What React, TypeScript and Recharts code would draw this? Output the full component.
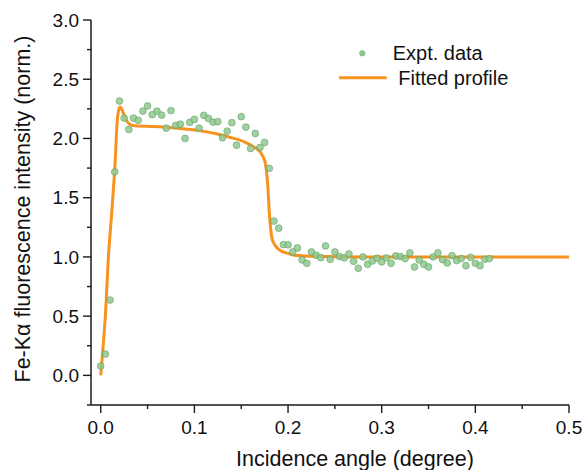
import React from 'react';
import { ComposedChart, Scatter, Line, XAxis, YAxis, Legend } from 'recharts';

const exptAngle = [
  0, 0.005, 0.01, 0.015, 0.02, 0.025, 0.03, 0.035, 0.04, 0.045,
  0.05, 0.055, 0.06, 0.065, 0.07, 0.075, 0.08, 0.085, 0.09, 0.095,
  0.1, 0.105, 0.11, 0.115, 0.12, 0.125, 0.13, 0.135, 0.14, 0.145,
  0.15, 0.155, 0.16, 0.165, 0.17, 0.175, 0.18, 0.185, 0.19, 0.195,
  0.2, 0.205, 0.21, 0.215, 0.22, 0.225, 0.23, 0.235, 0.24, 0.245,
  0.25, 0.255, 0.26, 0.265, 0.27, 0.275, 0.28, 0.285, 0.29, 0.295,
  0.3, 0.305, 0.31, 0.315, 0.32, 0.325, 0.33, 0.335, 0.34, 0.345,
  0.35, 0.355, 0.36, 0.365, 0.37, 0.375, 0.38, 0.385, 0.39, 0.395,
  0.4, 0.405, 0.41, 0.415,
];
const exptIntensity = [
  0.079, 0.18, 0.636, 1.718, 2.316, 2.172, 2.076, 2.172, 2.153, 2.231,
  2.274, 2.201, 2.231, 2.197, 2.087, 2.235, 2.11, 2.121, 2.0, 2.136,
  2.161, 2.087, 2.195, 2.169, 2.138, 2.142, 2.006, 2.062, 2.133, 1.943,
  2.184, 2.096, 1.915, 2.042, 1.924, 1.966, 1.748, 1.303, 1.243, 1.104,
  1.102, 1.042, 1.076, 0.975, 0.946, 1.042, 1.014, 0.994, 1.093, 0.98,
  1.042, 1.003, 0.992, 1.025, 0.963, 0.904, 1.0, 0.938, 0.966, 0.989,
  0.958, 0.992, 0.946, 1.008, 1.003, 0.986, 1.034, 0.915, 0.975, 0.938,
  0.915, 1.0, 1.034, 0.977, 0.949, 1.011, 0.969, 0.986, 0.926, 0.997,
  0.946, 0.926, 0.98, 0.986,
];
const fitAngle = [
  0, 0.0028, 0.0053, 0.008, 0.0117, 0.0153, 0.0177, 0.0195, 0.0206, 0.022,
  0.024, 0.0277, 0.033, 0.04, 0.054, 0.07, 0.09, 0.11, 0.1255, 0.14,
  0.147, 0.155, 0.161, 0.166, 0.17, 0.173, 0.1755, 0.177, 0.178, 0.179,
  0.18, 0.1812, 0.1825, 0.1845, 0.187, 0.19, 0.194, 0.2, 0.2055, 0.215,
  0.23, 0.25, 0.3, 0.4, 0.5,
];
const fitIntensity = [
  0, 0.27, 0.55, 0.975, 1.37, 1.79, 2.16, 2.25, 2.265, 2.255,
  2.218, 2.147, 2.113, 2.105, 2.102, 2.095, 2.08, 2.06, 2.035, 2.005,
  1.99, 1.965, 1.94, 1.915, 1.89, 1.85, 1.8, 1.72, 1.64, 1.52,
  1.37, 1.26, 1.17, 1.12, 1.09, 1.063, 1.045, 1.03, 1.017, 1.01,
  1.005, 1.002, 1.0, 1.0, 1.0,
];

const xTickValues = [0, 0.05, 0.1, 0.15, 0.2, 0.25, 0.3, 0.35, 0.4, 0.45, 0.5];
const xTickLabels = ['0.0', '', '0.1', '', '0.2', '', '0.3', '', '0.4', '', '0.5'];
const yTickValues = [-0.25, 0, 0.25, 0.5, 0.75, 1, 1.25, 1.5, 1.75, 2, 2.25, 2.5, 2.75, 3];
const yTickLabels = ['', '0.0', '', '0.5', '', '1.0', '', '1.5', '', '2.0', '', '2.5', '', '3.0'];

const exptData = exptAngle.map((x, i) => ({ x, y: exptIntensity[i] }));
const fitData = fitAngle.map((x, i) => ({ x, y: fitIntensity[i] }));

const FONT = "Arial, 'Liberation Sans', Helvetica, sans-serif";
const AXIS = '#1a1a1a';
const ORANGE = '#f7931e';
const GREEN_FILL = '#8fc98f';
const GREEN_STROKE = '#5e9a5e';

const labelFor = (values: number[], labels: string[], v: number) => {
  const i = values.findIndex((t) => Math.abs(t - v) < 1e-6);
  return i >= 0 ? labels[i] : '';
};

const BottomTick = (props: any) => {
  const { x, y, payload } = props;
  const lab = labelFor(xTickValues, xTickLabels, payload.value);
  const major = lab !== '';
  return (
    <g>
      <line x1={x} x2={x} y1={y} y2={y + (major ? 8 : 4)} stroke={AXIS} strokeWidth={1.4} />
      {major && (
        <text x={x} y={y + 29} textAnchor="middle" fontSize={19} fontFamily={FONT} fill="#111">
          {lab}
        </text>
      )}
    </g>
  );
};

const TopTick = (props: any) => {
  const { x, y, payload } = props;
  const major = labelFor(xTickValues, xTickLabels, payload.value) !== '';
  return <line x1={x} x2={x} y1={y} y2={y + (major ? 8 : 4)} stroke={AXIS} strokeWidth={1.4} />;
};

const LeftTick = (props: any) => {
  const { x, y, payload } = props;
  const lab = labelFor(yTickValues, yTickLabels, payload.value);
  const major = lab !== '';
  return (
    <g>
      <line x1={x} x2={x - (major ? 8 : 4)} y1={y} y2={y} stroke={AXIS} strokeWidth={1.4} />
      {major && (
        <text x={x - 12} y={y + 6.8} textAnchor="end" fontSize={19} fontFamily={FONT} fill="#111">
          {lab}
        </text>
      )}
    </g>
  );
};

const RightTick = (props: any) => {
  const { x, y, payload } = props;
  const major = labelFor(yTickValues, yTickLabels, payload.value) !== '';
  return <line x1={x} x2={x - (major ? 8 : 4)} y1={y} y2={y} stroke={AXIS} strokeWidth={1.4} />;
};

const YLabel = () => (
  <text
    x={23}
    y={209}
    transform="rotate(-90, 23, 209)"
    textAnchor="middle"
    dominantBaseline="central"
    fontSize={21.5}
    fontFamily={FONT}
    fill="#111"
  >
    Fe-Kα fluorescence intensity (norm.)
  </text>
);

const XLabel = () => (
  <text x={355} y={466} textAnchor="middle" fontSize={21.5} fontFamily={FONT} fill="#111">
    Incidence angle (degree)
  </text>
);

const Dot = (props: any) => (
  <circle cx={props.cx} cy={props.cy} r={3.4} fill={GREEN_FILL} fillOpacity={0.85} stroke={GREEN_STROKE} strokeOpacity={0.7} strokeWidth={0.8} />
);

const LegendBox = () => (
  <svg width={240} height={70} style={{ display: 'block', overflow: 'visible' }}>
    <circle cx={42.3} cy={23.3} r={2.8} fill={GREEN_FILL} stroke={GREEN_STROKE} strokeOpacity={0.6} strokeWidth={0.7} />
    <text x={72.7} y={30.2} fontSize={20} fontFamily={FONT} fill="#111">Expt. data</text>
    <line x1={19} x2={66.7} y1={47.7} y2={47.7} stroke={ORANGE} strokeWidth={3} />
    <text x={78.3} y={54.7} fontSize={20} fontFamily={FONT} fill="#111">Fitted profile</text>
  </svg>
);

export default function App() {
  return (
    <div style={{ position: 'absolute', left: 0, top: 0, background: '#fff' }}>
      <ComposedChart width={585} height={470} margin={{ top: 20, right: 16, bottom: 0, left: 0 }}>
        <XAxis
          xAxisId="bottom"
          dataKey="x"
          type="number"
          domain={[-0.0104, 0.5]}
          allowDataOverflow
          ticks={xTickValues}
          interval={0}
          tick={<BottomTick />}
          tickSize={0}
          tickMargin={0}
          tickLine={false}
          axisLine={{ stroke: AXIS, strokeWidth: 1.5 }}
          height={65}
          label={XLabel}
        />
        <XAxis
          xAxisId="top"
          orientation="top"
          type="number"
          domain={[-0.0104, 0.5]}
          allowDataOverflow
          ticks={xTickValues}
          interval={0}
          tick={<TopTick />}
          tickSize={0}
          tickMargin={0}
          tickLine={false}
          axisLine={{ stroke: AXIS, strokeWidth: 1.5 }}
          height={0}
        />
        <YAxis
          yAxisId="left"
          dataKey="y"
          type="number"
          domain={[-0.25, 3]}
          allowDataOverflow
          ticks={yTickValues}
          interval={0}
          tick={<LeftTick />}
          tickSize={0}
          tickMargin={0}
          tickLine={false}
          axisLine={{ stroke: AXIS, strokeWidth: 1.5 }}
          width={91}
          label={YLabel}
        />
        <YAxis
          yAxisId="right"
          orientation="right"
          type="number"
          domain={[-0.25, 3]}
          allowDataOverflow
          ticks={yTickValues}
          interval={0}
          tick={<RightTick />}
          tickSize={0}
          tickMargin={0}
          tickLine={false}
          axisLine={{ stroke: AXIS, strokeWidth: 1.5 }}
          width={0}
        />
        <Line
          xAxisId="bottom"
          yAxisId="left"
          data={fitData}
          dataKey="y"
          type="monotone"
          stroke={ORANGE}
          strokeWidth={3}
          dot={false}
          activeDot={false}
          isAnimationActive={false}
          name="Fitted profile"
        />
        <Scatter
          xAxisId="bottom"
          yAxisId="left"
          data={exptData}
          dataKey="y"
          shape={<Dot />}
          isAnimationActive={false}
          name="Expt. data"
        />
        <Legend
          layout="horizontal"
          verticalAlign="middle"
          align="center"
          content={<LegendBox />}
          wrapperStyle={{ left: 320, top: 30, width: 240, height: 70 }}
        />
      </ComposedChart>
    </div>
  );
}
